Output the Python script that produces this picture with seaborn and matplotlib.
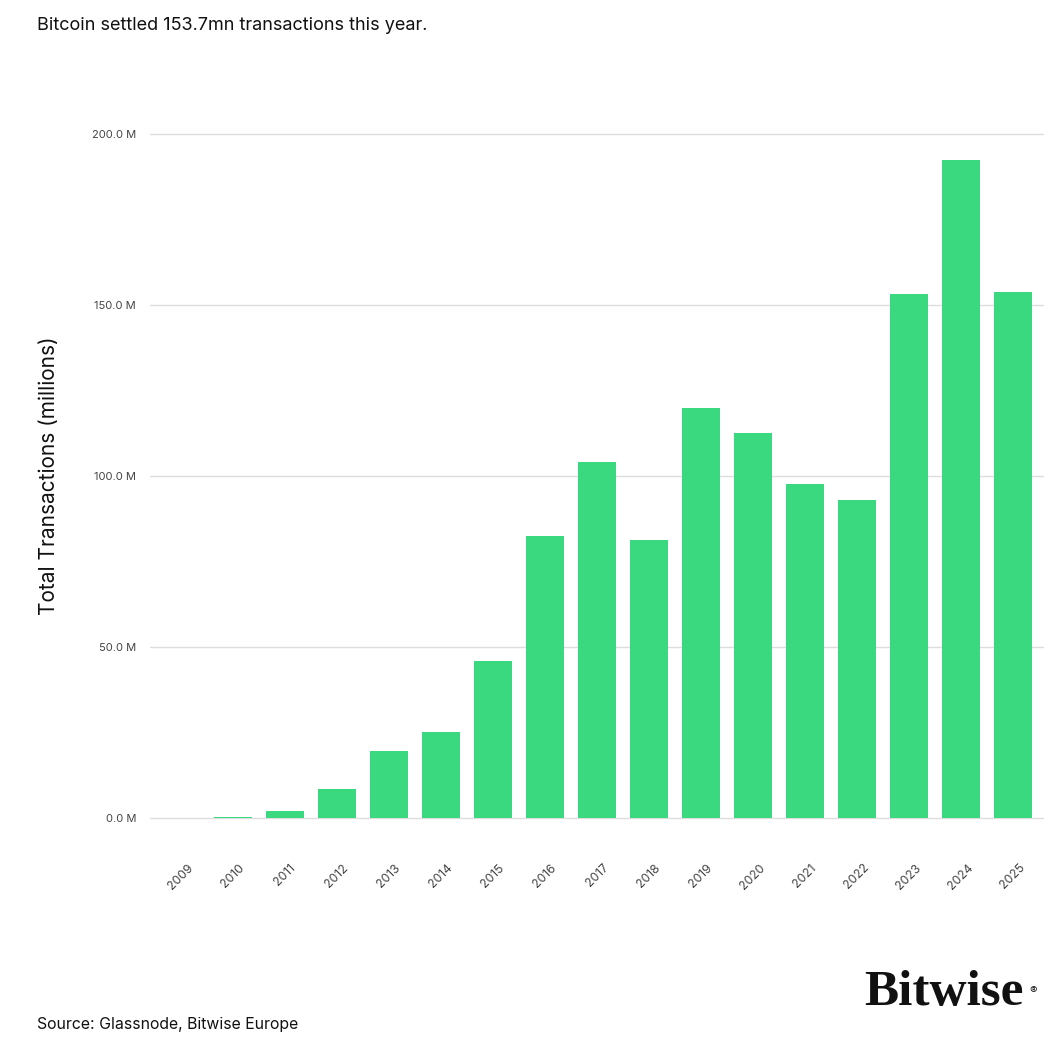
import matplotlib
matplotlib.use("Agg")
import matplotlib.pyplot as plt
import seaborn as sns
import pandas as pd

years = ["2009", "2010", "2011", "2012", "2013", "2014", "2015", "2016", "2017",
         "2018", "2019", "2020", "2021", "2022", "2023", "2024", "2025"]
transactions_m = [0.03, 0.2, 1.9, 8.4, 19.6, 25.1, 45.8, 82.5, 104.1,
                  81.4, 119.9, 112.6, 97.8, 93.0, 153.3, 192.4, 153.7]
y_ticks = [0, 50, 100, 150, 200]

title = "Bitcoin settled 153.7mn transactions this year."
y_label = "Total Transactions (millions)"
source = "Source: Glassnode, Bitwise Europe"

sns.set_theme(style="white")
plt.rcParams["font.family"] = ["Inter", "DejaVu Sans"]

BAR = "#3ad97f"

df = pd.DataFrame({"year": years, "tx": transactions_m})

fig = plt.figure(figsize=(10.56, 10.40), dpi=100)
ax = fig.add_axes([150 / 1056, 0.2102, 894 / 1056, 0.6642])

sns.barplot(data=df, x="year", y="tx", color=BAR, saturation=1, width=0.73, ax=ax,
            linewidth=0, zorder=3)

ax.set_xlim(-0.6, 16.6)
ax.set_ylim(-1, 201)
ax.set_yticks(y_ticks)
ax.set_yticklabels([f"{v:.1f} M" for v in y_ticks], fontsize=8, color="#444444")
ax.yaxis.grid(True, color="#dddddd", linewidth=1, zorder=0)
ax.xaxis.grid(False)
ax.set_axisbelow(True)
for s in ax.spines.values():
    s.set_visible(False)
ax.tick_params(axis="y", length=0, pad=10)
ax.tick_params(axis="x", length=0, pad=29)
plt.setp(ax.get_xticklabels(), rotation=45, ha="center", fontsize=8.8, color="#444444")

ax.set_xlabel("")
ax.set_ylabel(y_label, fontsize=15, color="#111111", labelpad=24)

fig.text(37 / 1056, 1 - 25 / 1040, title, fontsize=13, color="#111111",
         ha="left", va="center")
fig.text(37 / 1056, 1 - 1025 / 1040, source, fontsize=11.4, color="#111111",
         ha="left", va="center")
fig.text(864 / 1056, 1 - 993 / 1040, "Bitwise", fontsize=37, fontweight="bold",
         family=["Liberation Serif", "DejaVu Serif"], color="#111111",
         ha="left", va="center")
fig.text(1033 / 1056, 1 - 991 / 1040, "®", fontsize=8, color="#111111",
         ha="center", va="center")

fig.savefig("out.png", dpi=100, facecolor="white")
